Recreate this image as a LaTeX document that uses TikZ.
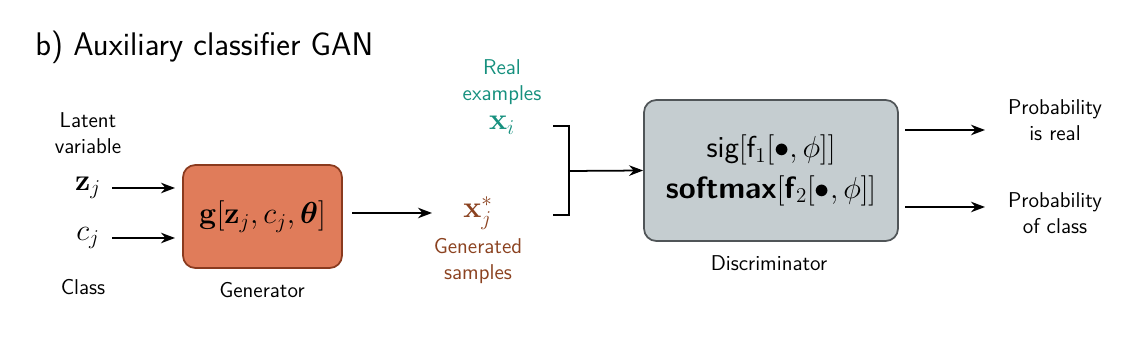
\documentclass[tikz,border=0pt]{standalone}
\usepackage{amsmath,amssymb,bm}
\usepackage{xcolor}
\usepackage{tikz}
\usetikzlibrary{arrows.meta}
\definecolor{genfill}{HTML}{E07C5A}
\definecolor{gendraw}{HTML}{8A3A1E}
\definecolor{discfill}{HTML}{C5CDD0}
\definecolor{discdraw}{HTML}{505558}
\definecolor{realcol}{HTML}{16907E}
\definecolor{fakecol}{HTML}{8B4220}
\renewcommand{\familydefault}{\sfdefault}
\tikzset{
  lbl/.style={font=\fontsize{12.2}{14.8}\selectfont,align=center,inner sep=1pt},
  mth/.style={font=\fontsize{16.5}{18}\selectfont,inner sep=1pt},
  genbox/.style={draw=gendraw,fill=genfill,line width=1pt,rounded corners=7pt,minimum width=3.18cm,minimum height=2.06cm,font=\fontsize{16.8}{18}\selectfont},
  discbox/.style={draw=discdraw,fill=discfill,line width=1pt,rounded corners=7pt,minimum width=5.08cm,minimum height=2.82cm,font=\fontsize{17.5}{21}\selectfont,align=center},
  arr/.style={->,line width=1pt}
}
\begin{document}
\begin{tikzpicture}[x=0.02cm,y=-0.02cm,>={Stealth[length=8pt,width=6pt]}]
\useasboundingbox (0,0) rectangle (1136,340);
\node[anchor=base west,font=\fontsize{18.6}{22}\selectfont,inner sep=0] (title) at (35,56) {b) Auxiliary classifier GAN};
% inputs
\node[lbl] (latent) at (88,133) {Latent\\variable};
\node[mth] (z) at (88,188) {$\mathbf{z}_j$};
\node[mth] (c) at (88,238) {$c_j$};
\node[lbl] (class) at (83,287) {Class};
\node[genbox] (gen) at (262.5,216.5) {$\mathbf{g}[\mathbf{z}_j,c_j,\bm{\theta}]$};
\node[lbl] (genlbl) at (262,290) {Generator};
\coordinate (zend) at (175,188);
\coordinate (cend) at (175,238);
% samples
\node[mth,text=fakecol] (xfake) at (478,213) {$\mathbf{x}_j^*$};
\node[lbl,text=fakecol] (genlab) at (478,261) {Generated\\samples};
\node[mth,text=realcol] (xreal) at (502,125) {$\mathbf{x}_i$};
\node[lbl,text=realcol] (reallab) at (502,82) {Real\\examples};
\coordinate (bt) at (569,126);
\coordinate (bb) at (569,215);
\coordinate (bm) at (569,171);
\draw[line width=1pt] (553,126) -- (bt) -- (bb) -- (553,215);
% discriminator
\node[discbox] (disc) at (771,170.5) {sig$[\mathsf{f}_1[\bullet,\phi]]$\\[2pt]\textbf{softmax}$[\textsf{\textbf{f}}_2[\bullet,\phi]]$};
\node[lbl] (disclbl) at (769,263) {Discriminator};
\node[lbl] (preal) at (1055,120) {Probability\\is real};
\node[lbl] (pclass) at (1055,213) {Probability\\of class};
\coordinate (o1) at (905,130);
\coordinate (o2) at (905,207);
% arrows
\draw[arr] (112,188) -- (zend);
\draw[arr] (112,238) -- (cend);
\draw[arr] (352,213) -- (432,213);
\draw[arr] (bm) -- (disc.west);
\draw[arr] (o1) -- (985,130);
\draw[arr] (o2) -- (985,207);
\end{tikzpicture}
\end{document}
